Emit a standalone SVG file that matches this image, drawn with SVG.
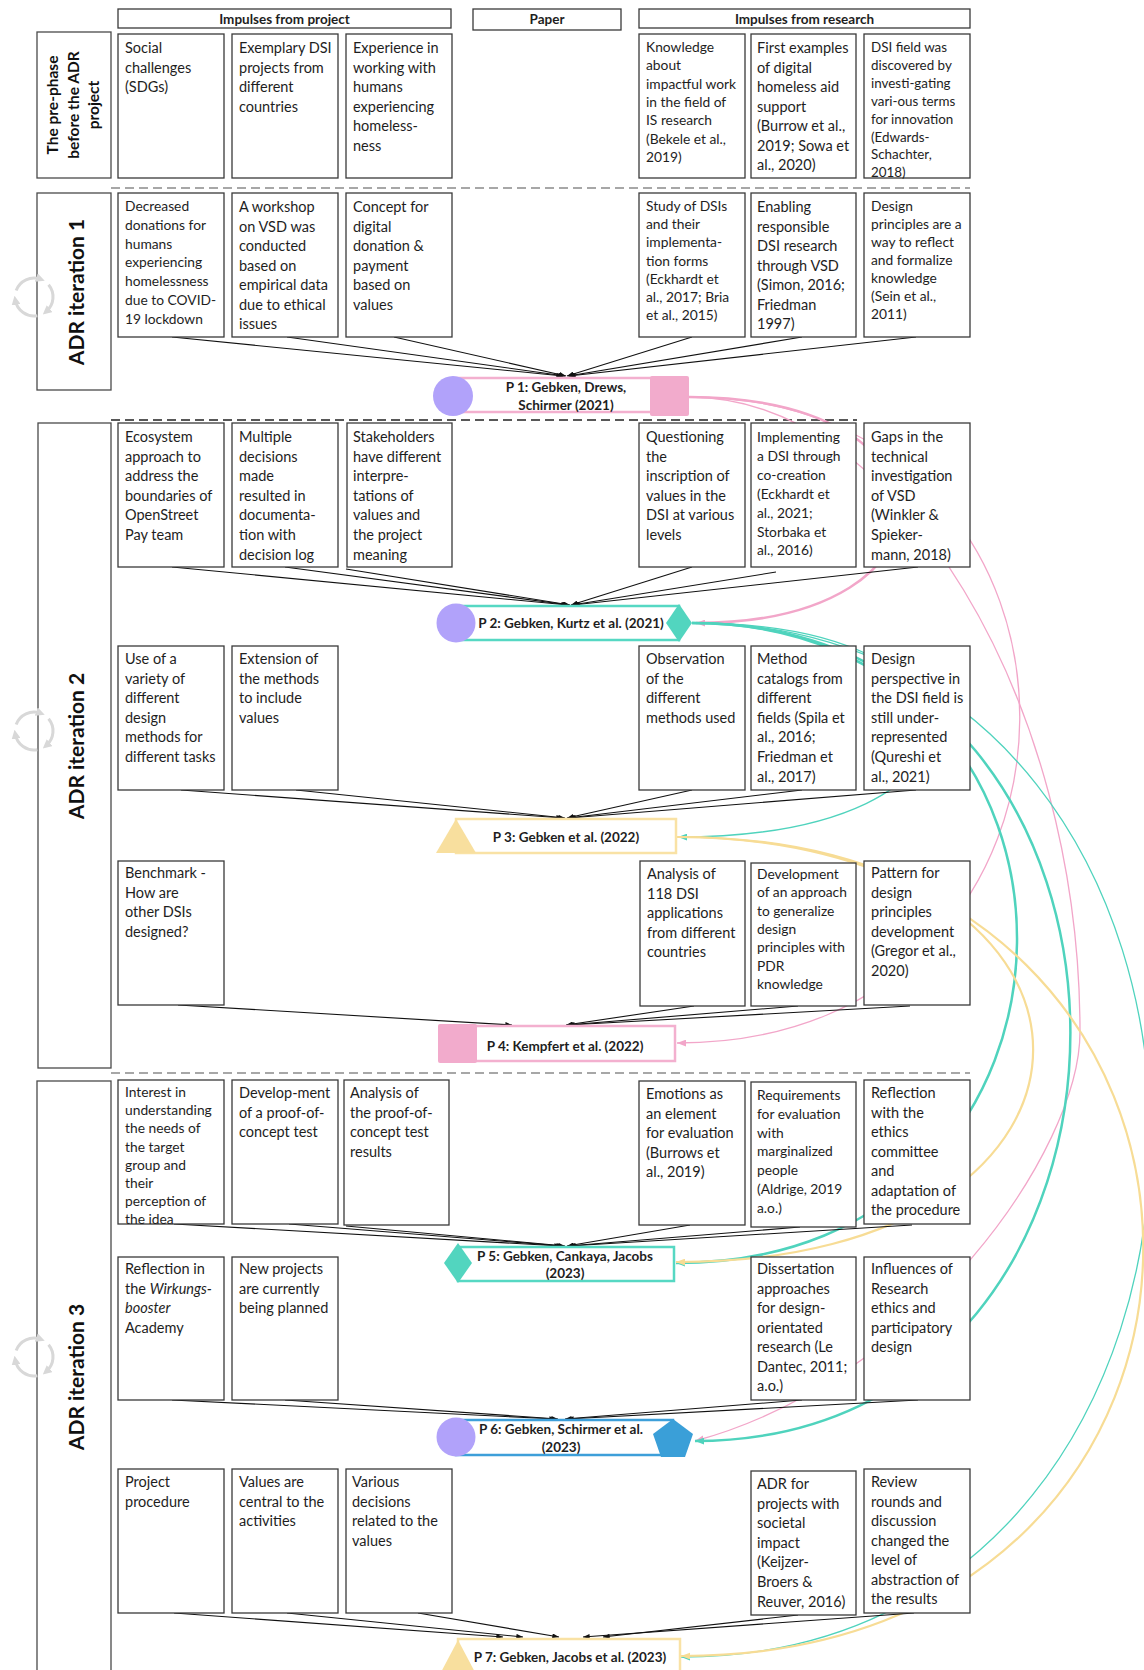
<svg xmlns="http://www.w3.org/2000/svg" width="1144" height="1670" viewBox="0 0 1144 1670">
<style>
.bx{fill:#fff;stroke:#3a3a3a;stroke-width:1.3}
.lb{fill:#fff;stroke:#4a4a4a;stroke-width:1.3}
.t{font-family:Lato,"Open Sans",sans-serif;font-size:14.5px;fill:#1e1e1e}
.s{font-size:13.8px}
.xs{font-size:13.4px}
.hd{font-family:Lato,"Open Sans",sans-serif;font-weight:bold;font-size:13.5px;text-anchor:middle;fill:#1e1e1e}
.pt{font-family:Lato,"Open Sans",sans-serif;font-weight:bold;font-size:13.5px;text-anchor:middle;fill:#1e1e1e}
.it{font-family:Lato,"Open Sans",sans-serif;font-weight:bold;font-size:21px;text-anchor:middle;fill:#111}
.pp{font-family:Lato,"Open Sans",sans-serif;font-weight:bold;font-size:15.5px;text-anchor:middle;fill:#111}
.lk{stroke:#111;stroke-width:1.1;fill:none;marker-end:url(#ak)}
.cp{stroke:#f2a6c9;fill:none;marker-end:url(#ap)}
.ct{stroke:#4fd3bd;fill:none;marker-end:url(#at)}
.cy{stroke:#f7dc95;fill:none;marker-end:url(#ay)}
.dg{stroke:#8a8a8a;stroke-width:1.6;stroke-dasharray:9 5;fill:none}
.db{stroke:#222;stroke-width:1.6;stroke-dasharray:9 5;fill:none}
.cyc{stroke:#d8d8d8;stroke-width:3;fill:none;marker-end:url(#ac)}
</style>
<defs>
<marker id="ak" viewBox="0 0 8 6" refX="8" refY="3" markerWidth="7" markerHeight="5" markerUnits="userSpaceOnUse" orient="auto"><path d="M0,0 L8,3 L0,6 z" fill="#111"/></marker>
<marker id="ap" viewBox="0 0 8 6" refX="8" refY="3" markerWidth="9" markerHeight="7" markerUnits="userSpaceOnUse" orient="auto"><path d="M0,0 L8,3 L0,6 z" fill="#f2a6c9"/></marker>
<marker id="at" viewBox="0 0 8 6" refX="8" refY="3" markerWidth="9" markerHeight="7" markerUnits="userSpaceOnUse" orient="auto"><path d="M0,0 L8,3 L0,6 z" fill="#4fd3bd"/></marker>
<marker id="ay" viewBox="0 0 8 6" refX="8" refY="3" markerWidth="9" markerHeight="7" markerUnits="userSpaceOnUse" orient="auto"><path d="M0,0 L8,3 L0,6 z" fill="#f7dc95"/></marker>
<marker id="ac" viewBox="0 0 8 8" refX="4" refY="4" markerWidth="9" markerHeight="9" markerUnits="userSpaceOnUse" orient="auto"><path d="M0,0 L8,4 L0,8 z" fill="#d8d8d8"/></marker>
<g id="cycle"><path class="cyc" d="M-17.85,-6.5 A19,19 0 0 1 6.5,-17.85"/><path class="cyc" d="M14.55,-12.21 A19,19 0 0 1 12.21,14.55"/><path class="cyc" d="M3.3,18.71 A19,19 0 0 1 -18.71,3.3"/></g>
</defs>
<rect width="1144" height="1670" fill="#fff"/>

<!-- headers -->
<g id="h-project"><rect class="bx" x="118" y="9" width="333" height="19"/><text class="hd" x="284.5" y="23.5">Impulses from project</text></g>
<g id="h-paper"><rect class="bx" x="473" y="9" width="148" height="21"/><text class="hd" x="547" y="24">Paper</text></g>
<g id="h-research"><rect class="bx" x="639" y="9" width="331" height="19"/><text class="hd" x="804.5" y="23.5">Impulses from research</text></g>

<!-- phase labels -->
<g id="l-pre"><rect class="lb" x="37" y="32" width="74" height="146"/>
<text class="pp" transform="translate(58,105) rotate(-90)">The pre-phase</text>
<text class="pp" transform="translate(79,105) rotate(-90)">before the ADR</text>
<text class="pp" transform="translate(99,105) rotate(-90)">project</text></g>
<g id="l-it1"><rect class="lb" x="37" y="193" width="74" height="197"/><text class="it" transform="translate(84,292) rotate(-90)">ADR iteration 1</text><use href="#cycle" x="34" y="297"/></g>
<g id="l-it2"><rect class="lb" x="38" y="423" width="73" height="645" stroke="#666"/><text class="it" transform="translate(84,746) rotate(-90)">ADR iteration 2</text><use href="#cycle" x="34" y="731"/></g>
<g id="l-it3"><rect class="lb" x="37" y="1081" width="74" height="610"/><text class="it" transform="translate(84,1377) rotate(-90)">ADR iteration 3</text><use href="#cycle" x="34" y="1357"/></g>

<!-- separators -->
<g id="separators">
<line class="dg" x1="111" y1="188" x2="970" y2="188"/>
<line class="db" x1="111" y1="420" x2="857" y2="420"/>
<line class="dg" x1="111" y1="1073" x2="970" y2="1073"/>
</g>

<g id="connectors">
<!-- paper to paper curves -->
<path class="cp" stroke-width="2.5" d="M689,397 C969,397 969,623 696,623"/>
<path class="cp" stroke-width="1.3" d="M689,397 C1132,397 1132,1043 677,1043"/>
<path class="cp" stroke-width="1.3" d="M689,397 C900,397 1080,700 1080,1032 C1080,1150 920,1380 695,1441"/>
<path class="ct" stroke-width="1.3" d="M692,623 C1012,623 1012,837 678,837"/>
<path class="ct" stroke-width="2.5" d="M692,623 C1128,623 1128,1263 676,1263"/>
<path class="ct" stroke-width="2.5" d="M692,623 C1196,623 1196,1441 695,1441"/>
<path class="ct" stroke-width="1.3" d="M692,623 C1305,623 1305,1657 681,1657"/>
<path class="cy" stroke-width="2.2" d="M677,837 C1152,837 1152,1263 676,1262"/>
<path class="cy" stroke-width="2.2" d="M677,837 C1298,837 1298,1657 681,1656"/>
<!-- impulses to papers -->
<line class="lk" x1="172" y1="337" x2="563" y2="376"/>
<line class="lk" x1="287" y1="337" x2="565" y2="376"/>
<line class="lk" x1="394" y1="337" x2="566" y2="376"/>
<line class="lk" x1="692" y1="337" x2="567" y2="376"/>
<line class="lk" x1="802" y1="337" x2="568" y2="376"/>
<line class="lk" x1="916" y1="337" x2="569" y2="376"/>
<line class="lk" x1="172" y1="567" x2="568" y2="605"/>
<line class="lk" x1="285" y1="567" x2="569" y2="605"/>
<line class="lk" x1="346" y1="569" x2="570" y2="605"/>
<line class="lk" x1="692" y1="567" x2="571" y2="605"/>
<line class="lk" x1="776" y1="572" x2="572" y2="605"/>
<line class="lk" x1="918" y1="567" x2="573" y2="605"/>
<line class="lk" x1="181" y1="790" x2="563" y2="818"/>
<line class="lk" x1="296" y1="790" x2="565" y2="818"/>
<line class="lk" x1="692" y1="790" x2="567" y2="818"/>
<line class="lk" x1="802" y1="790" x2="568" y2="818"/>
<line class="lk" x1="916" y1="790" x2="569" y2="818"/>
<line class="lk" x1="178" y1="1005" x2="512" y2="1025"/>
<line class="lk" x1="694" y1="1006" x2="566" y2="1025"/>
<line class="lk" x1="798" y1="1006" x2="567" y2="1025"/>
<line class="lk" x1="910" y1="1006" x2="568" y2="1025"/>
<line class="lk" x1="174" y1="1224" x2="561" y2="1246"/>
<line class="lk" x1="289" y1="1224" x2="563" y2="1246"/>
<line class="lk" x1="346" y1="1226" x2="565" y2="1246"/>
<line class="lk" x1="690" y1="1225" x2="567" y2="1246"/>
<line class="lk" x1="800" y1="1227" x2="568" y2="1246"/>
<line class="lk" x1="912" y1="1225" x2="569" y2="1246"/>
<line class="lk" x1="172" y1="1400" x2="556" y2="1419"/>
<line class="lk" x1="285" y1="1400" x2="558" y2="1419"/>
<line class="lk" x1="802" y1="1400" x2="565" y2="1419"/>
<line class="lk" x1="918" y1="1400" x2="567" y2="1419"/>
<line class="lk" x1="174" y1="1613" x2="503" y2="1637"/>
<line class="lk" x1="287" y1="1613" x2="523" y2="1637"/>
<line class="lk" x1="418" y1="1613" x2="559" y2="1637"/>
<line class="lk" x1="914" y1="1613" x2="583" y2="1637"/>
<line class="lk" x1="798" y1="1615" x2="603" y2="1637"/>
</g>

<!-- pre-phase -->
<g id="n-pre-1"><rect class="bx" x="118" y="34" width="106" height="144"/><text class="t" x="125" y="53"><tspan x="125">Social</tspan><tspan x="125" dy="19.6">challenges</tspan><tspan x="125" dy="19.6">(SDGs)</tspan></text></g>
<g id="n-pre-2"><rect class="bx" x="232" y="34" width="106" height="144"/><text class="t" x="239" y="53"><tspan x="239">Exemplary DSI</tspan><tspan x="239" dy="19.6">projects from</tspan><tspan x="239" dy="19.6">different</tspan><tspan x="239" dy="19.6">countries</tspan></text></g>
<g id="n-pre-3"><rect class="bx" x="346" y="34" width="106" height="144"/><text class="t" x="353" y="53"><tspan x="353">Experience in</tspan><tspan x="353" dy="19.6">working with</tspan><tspan x="353" dy="19.6">humans</tspan><tspan x="353" dy="19.6">experiencing</tspan><tspan x="353" dy="19.6">homeless-</tspan><tspan x="353" dy="19.6">ness</tspan></text></g>
<g id="n-pre-4"><rect class="bx" x="639" y="34" width="106" height="144"/><text class="t s" x="646" y="52"><tspan x="646">Knowledge</tspan><tspan x="646" dy="18.3">about</tspan><tspan x="646" dy="18.3">impactful work</tspan><tspan x="646" dy="18.3">in the field of</tspan><tspan x="646" dy="18.3">IS research</tspan><tspan x="646" dy="18.3">(Bekele et al.,</tspan><tspan x="646" dy="18.3">2019)</tspan></text></g>
<g id="n-pre-5"><rect class="bx" x="751" y="34" width="105" height="144"/><text class="t" x="757" y="53"><tspan x="757">First examples</tspan><tspan x="757" dy="19.5">of digital</tspan><tspan x="757" dy="19.5">homeless aid</tspan><tspan x="757" dy="19.5">support</tspan><tspan x="757" dy="19.5">(Burrow et al.,</tspan><tspan x="757" dy="19.5">2019; Sowa et</tspan><tspan x="757" dy="19.5">al., 2020)</tspan></text></g>
<g id="n-pre-6"><rect class="bx" x="864" y="34" width="106" height="144"/><text class="t xs" x="871" y="52"><tspan x="871">DSI field was</tspan><tspan x="871" dy="17.9">discovered by</tspan><tspan x="871" dy="17.9">investi-gating</tspan><tspan x="871" dy="17.9">vari-ous terms</tspan><tspan x="871" dy="17.9">for innovation</tspan><tspan x="871" dy="17.9">(Edwards-</tspan><tspan x="871" dy="17.9">Schachter,</tspan><tspan x="871" dy="17.9">2018)</tspan></text></g>

<!-- iteration 1 -->
<g id="n-i1-1"><rect class="bx" x="118" y="193" width="106" height="144"/><text class="t s" x="125" y="211"><tspan x="125">Decreased</tspan><tspan x="125" dy="18.8">donations for</tspan><tspan x="125" dy="18.8">humans</tspan><tspan x="125" dy="18.8">experiencing</tspan><tspan x="125" dy="18.8">homelessness</tspan><tspan x="125" dy="18.8">due to COVID-</tspan><tspan x="125" dy="18.8">19 lockdown</tspan></text></g>
<g id="n-i1-2"><rect class="bx" x="232" y="193" width="106" height="144"/><text class="t" x="239" y="212"><tspan x="239">A workshop</tspan><tspan x="239" dy="19.5">on VSD was</tspan><tspan x="239" dy="19.5">conducted</tspan><tspan x="239" dy="19.5">based on</tspan><tspan x="239" dy="19.5">empirical data</tspan><tspan x="239" dy="19.5">due to ethical</tspan><tspan x="239" dy="19.5">issues</tspan></text></g>
<g id="n-i1-3"><rect class="bx" x="346" y="193" width="106" height="144"/><text class="t" x="353" y="212"><tspan x="353">Concept for</tspan><tspan x="353" dy="19.5">digital</tspan><tspan x="353" dy="19.5">donation &amp;</tspan><tspan x="353" dy="19.5">payment</tspan><tspan x="353" dy="19.5">based on</tspan><tspan x="353" dy="19.5">values</tspan></text></g>
<g id="n-i1-4"><rect class="bx" x="639" y="193" width="106" height="144"/><text class="t s" x="646" y="211"><tspan x="646">Study of DSIs</tspan><tspan x="646" dy="18.2">and their</tspan><tspan x="646" dy="18.2">implementa-</tspan><tspan x="646" dy="18.2">tion forms</tspan><tspan x="646" dy="18.2">(Eckhardt et</tspan><tspan x="646" dy="18.2">al., 2017; Bria</tspan><tspan x="646" dy="18.2">et al., 2015)</tspan></text></g>
<g id="n-i1-5"><rect class="bx" x="751" y="193" width="105" height="144"/><text class="t" x="757" y="212"><tspan x="757">Enabling</tspan><tspan x="757" dy="19.5">responsible</tspan><tspan x="757" dy="19.5">DSI research</tspan><tspan x="757" dy="19.5">through VSD</tspan><tspan x="757" dy="19.5">(Simon, 2016;</tspan><tspan x="757" dy="19.5">Friedman</tspan><tspan x="757" dy="19.5">1997)</tspan></text></g>
<g id="n-i1-6"><rect class="bx" x="864" y="193" width="106" height="144"/><text class="t s" x="871" y="211"><tspan x="871">Design</tspan><tspan x="871" dy="18">principles are a</tspan><tspan x="871" dy="18">way to reflect</tspan><tspan x="871" dy="18">and formalize</tspan><tspan x="871" dy="18">knowledge</tspan><tspan x="871" dy="18">(Sein et al.,</tspan><tspan x="871" dy="18">2011)</tspan></text></g>

<!-- iteration 2 row A -->
<g id="n-i2a-1"><rect class="bx" x="118" y="423" width="106" height="144"/><text class="t" x="125" y="442"><tspan x="125">Ecosystem</tspan><tspan x="125" dy="19.6">approach to</tspan><tspan x="125" dy="19.6">address the</tspan><tspan x="125" dy="19.6">boundaries of</tspan><tspan x="125" dy="19.6">OpenStreet</tspan><tspan x="125" dy="19.6">Pay team</tspan></text></g>
<g id="n-i2a-2"><rect class="bx" x="232" y="423" width="106" height="144"/><text class="t" x="239" y="442"><tspan x="239">Multiple</tspan><tspan x="239" dy="19.6">decisions</tspan><tspan x="239" dy="19.6">made</tspan><tspan x="239" dy="19.6">resulted in</tspan><tspan x="239" dy="19.6">documenta-</tspan><tspan x="239" dy="19.6">tion with</tspan><tspan x="239" dy="19.6">decision log</tspan></text></g>
<g id="n-i2a-3"><rect class="bx" x="347" y="423" width="105" height="144"/><text class="t" x="353" y="442"><tspan x="353">Stakeholders</tspan><tspan x="353" dy="19.6">have different</tspan><tspan x="353" dy="19.6">interpre-</tspan><tspan x="353" dy="19.6">tations of</tspan><tspan x="353" dy="19.6">values and</tspan><tspan x="353" dy="19.6">the project</tspan><tspan x="353" dy="19.6">meaning</tspan></text></g>
<g id="n-i2a-4"><rect class="bx" x="639" y="423" width="106" height="144"/><text class="t" x="646" y="442"><tspan x="646">Questioning</tspan><tspan x="646" dy="19.6">the</tspan><tspan x="646" dy="19.6">inscription of</tspan><tspan x="646" dy="19.6">values in the</tspan><tspan x="646" dy="19.6">DSI at various</tspan><tspan x="646" dy="19.6">levels</tspan></text></g>
<g id="n-i2a-5"><rect class="bx" x="751" y="423" width="105" height="144"/><text class="t s" x="757" y="442"><tspan x="757">Implementing</tspan><tspan x="757" dy="18.9">a DSI through</tspan><tspan x="757" dy="18.9">co-creation</tspan><tspan x="757" dy="18.9">(Eckhardt et</tspan><tspan x="757" dy="18.9">al., 2021;</tspan><tspan x="757" dy="18.9">Storbaka et</tspan><tspan x="757" dy="18.9">al., 2016)</tspan></text></g>
<g id="n-i2a-6"><rect class="bx" x="864" y="423" width="106" height="144"/><text class="t" x="871" y="442"><tspan x="871">Gaps in the</tspan><tspan x="871" dy="19.6">technical</tspan><tspan x="871" dy="19.6">investigation</tspan><tspan x="871" dy="19.6">of VSD</tspan><tspan x="871" dy="19.6">(Winkler &amp;</tspan><tspan x="871" dy="19.6">Spieker-</tspan><tspan x="871" dy="19.6">mann, 2018)</tspan></text></g>

<!-- iteration 2 row B -->
<g id="n-i2b-1"><rect class="bx" x="118" y="646" width="106" height="144"/><text class="t" x="125" y="664"><tspan x="125">Use of a</tspan><tspan x="125" dy="19.6">variety of</tspan><tspan x="125" dy="19.6">different</tspan><tspan x="125" dy="19.6">design</tspan><tspan x="125" dy="19.6">methods for</tspan><tspan x="125" dy="19.6">different tasks</tspan></text></g>
<g id="n-i2b-2"><rect class="bx" x="232" y="646" width="106" height="144"/><text class="t" x="239" y="664"><tspan x="239">Extension of</tspan><tspan x="239" dy="19.6">the methods</tspan><tspan x="239" dy="19.6">to include</tspan><tspan x="239" dy="19.6">values</tspan></text></g>
<g id="n-i2b-4"><rect class="bx" x="639" y="646" width="106" height="144"/><text class="t" x="646" y="664"><tspan x="646">Observation</tspan><tspan x="646" dy="19.6">of the</tspan><tspan x="646" dy="19.6">different</tspan><tspan x="646" dy="19.6">methods used</tspan></text></g>
<g id="n-i2b-5"><rect class="bx" x="751" y="646" width="105" height="144"/><text class="t" x="757" y="664"><tspan x="757">Method</tspan><tspan x="757" dy="19.6">catalogs from</tspan><tspan x="757" dy="19.6">different</tspan><tspan x="757" dy="19.6">fields (Spila et</tspan><tspan x="757" dy="19.6">al., 2016;</tspan><tspan x="757" dy="19.6">Friedman et</tspan><tspan x="757" dy="19.6">al., 2017)</tspan></text></g>
<g id="n-i2b-6"><rect class="bx" x="864" y="646" width="106" height="144"/><text class="t" x="871" y="664"><tspan x="871">Design</tspan><tspan x="871" dy="19.6">perspective in</tspan><tspan x="871" dy="19.6">the DSI field is</tspan><tspan x="871" dy="19.6">still under-</tspan><tspan x="871" dy="19.6">represented</tspan><tspan x="871" dy="19.6">(Qureshi et</tspan><tspan x="871" dy="19.6">al., 2021)</tspan></text></g>

<!-- iteration 2 row C -->
<g id="n-i2c-1"><rect class="bx" x="118" y="861" width="106" height="144"/><text class="t" x="125" y="878"><tspan x="125">Benchmark -</tspan><tspan x="125" dy="19.6">How are</tspan><tspan x="125" dy="19.6">other DSIs</tspan><tspan x="125" dy="19.6">designed?</tspan></text></g>
<g id="n-i2c-4"><rect class="bx" x="640" y="861" width="105" height="145"/><text class="t" x="647" y="879"><tspan x="647">Analysis of</tspan><tspan x="647" dy="19.6">118 DSI</tspan><tspan x="647" dy="19.6">applications</tspan><tspan x="647" dy="19.6">from different</tspan><tspan x="647" dy="19.6">countries</tspan></text></g>
<g id="n-i2c-5"><rect class="bx" x="751" y="863" width="105" height="143"/><text class="t s" x="757" y="879"><tspan x="757">Development</tspan><tspan x="757" dy="18.3">of an approach</tspan><tspan x="757" dy="18.3">to generalize</tspan><tspan x="757" dy="18.3">design</tspan><tspan x="757" dy="18.3">principles with</tspan><tspan x="757" dy="18.3">PDR</tspan><tspan x="757" dy="18.3">knowledge</tspan></text></g>
<g id="n-i2c-6"><rect class="bx" x="864" y="861" width="106" height="144"/><text class="t" x="871" y="878"><tspan x="871">Pattern for</tspan><tspan x="871" dy="19.6">design</tspan><tspan x="871" dy="19.6">principles</tspan><tspan x="871" dy="19.6">development</tspan><tspan x="871" dy="19.6">(Gregor et al.,</tspan><tspan x="871" dy="19.6">2020)</tspan></text></g>

<!-- iteration 3 row D -->
<g id="n-i3d-1"><rect class="bx" x="118" y="1080" width="106" height="144"/><text class="t s" x="125" y="1097"><tspan x="125">Interest in</tspan><tspan x="125" dy="18.2">understanding</tspan><tspan x="125" dy="18.2">the needs of</tspan><tspan x="125" dy="18.2">the target</tspan><tspan x="125" dy="18.2">group and</tspan><tspan x="125" dy="18.2">their</tspan><tspan x="125" dy="18.2">perception of</tspan><tspan x="125" dy="18.2">the idea</tspan></text></g>
<g id="n-i3d-2"><rect class="bx" x="232" y="1080" width="106" height="144"/><text class="t" x="239" y="1098"><tspan x="239">Develop-ment</tspan><tspan x="239" dy="19.5">of a proof-of-</tspan><tspan x="239" dy="19.5">concept test</tspan></text></g>
<g id="n-i3d-3"><rect class="bx" x="344" y="1080" width="105" height="145"/><text class="t" x="350" y="1098"><tspan x="350">Analysis of</tspan><tspan x="350" dy="19.6">the proof-of-</tspan><tspan x="350" dy="19.6">concept test</tspan><tspan x="350" dy="19.6">results</tspan></text></g>
<g id="n-i3d-4"><rect class="bx" x="639" y="1081" width="106" height="144"/><text class="t" x="646" y="1099"><tspan x="646">Emotions as</tspan><tspan x="646" dy="19.5">an element</tspan><tspan x="646" dy="19.5">for evaluation</tspan><tspan x="646" dy="19.5">(Burrows et</tspan><tspan x="646" dy="19.5">al., 2019)</tspan></text></g>
<g id="n-i3d-5"><rect class="bx" x="751" y="1082" width="105" height="145"/><text class="t s" x="757" y="1100"><tspan x="757">Requirements</tspan><tspan x="757" dy="18.8">for evaluation</tspan><tspan x="757" dy="18.8">with</tspan><tspan x="757" dy="18.8">marginalized</tspan><tspan x="757" dy="18.8">people</tspan><tspan x="757" dy="18.8">(Aldrige, 2019</tspan><tspan x="757" dy="18.8">a.o.)</tspan></text></g>
<g id="n-i3d-6"><rect class="bx" x="864" y="1080" width="106" height="144"/><text class="t" x="871" y="1098"><tspan x="871">Reflection</tspan><tspan x="871" dy="19.5">with the</tspan><tspan x="871" dy="19.5">ethics</tspan><tspan x="871" dy="19.5">committee</tspan><tspan x="871" dy="19.5">and</tspan><tspan x="871" dy="19.5">adaptation of</tspan><tspan x="871" dy="19.5">the procedure</tspan></text></g>

<!-- iteration 3 row E -->
<g id="n-i3e-1"><rect class="bx" x="118" y="1257" width="106" height="143"/><text class="t" x="125" y="1274"><tspan x="125">Reflection in</tspan><tspan x="125" dy="19.5">the </tspan><tspan font-style="italic">Wirkungs-</tspan><tspan x="125" dy="19.5" font-style="italic">booster</tspan><tspan x="125" dy="19.5">Academy</tspan></text></g>
<g id="n-i3e-2"><rect class="bx" x="232" y="1257" width="106" height="143"/><text class="t" x="239" y="1274"><tspan x="239">New projects</tspan><tspan x="239" dy="19.5">are currently</tspan><tspan x="239" dy="19.5">being planned</tspan></text></g>
<g id="n-i3e-5"><rect class="bx" x="751" y="1257" width="105" height="143"/><text class="t" x="757" y="1274"><tspan x="757">Dissertation</tspan><tspan x="757" dy="19.5">approaches</tspan><tspan x="757" dy="19.5">for design-</tspan><tspan x="757" dy="19.5">orientated</tspan><tspan x="757" dy="19.5">research (Le</tspan><tspan x="757" dy="19.5">Dantec, 2011;</tspan><tspan x="757" dy="19.5">a.o.)</tspan></text></g>
<g id="n-i3e-6"><rect class="bx" x="864" y="1257" width="106" height="143"/><text class="t" x="871" y="1274"><tspan x="871">Influences of</tspan><tspan x="871" dy="19.5">Research</tspan><tspan x="871" dy="19.5">ethics and</tspan><tspan x="871" dy="19.5">participatory</tspan><tspan x="871" dy="19.5">design</tspan></text></g>

<!-- iteration 3 row F -->
<g id="n-i3f-1"><rect class="bx" x="118" y="1469" width="106" height="144"/><text class="t" x="125" y="1487"><tspan x="125">Project</tspan><tspan x="125" dy="19.5">procedure</tspan></text></g>
<g id="n-i3f-2"><rect class="bx" x="232" y="1469" width="106" height="144"/><text class="t" x="239" y="1487"><tspan x="239">Values are</tspan><tspan x="239" dy="19.5">central to the</tspan><tspan x="239" dy="19.5">activities</tspan></text></g>
<g id="n-i3f-3"><rect class="bx" x="346" y="1469" width="106" height="144"/><text class="t" x="352" y="1487"><tspan x="352">Various</tspan><tspan x="352" dy="19.5">decisions</tspan><tspan x="352" dy="19.5">related to the</tspan><tspan x="352" dy="19.5">values</tspan></text></g>
<g id="n-i3f-5"><rect class="bx" x="751" y="1471" width="105" height="144"/><text class="t" x="757" y="1489"><tspan x="757">ADR for</tspan><tspan x="757" dy="19.6">projects with</tspan><tspan x="757" dy="19.6">societal</tspan><tspan x="757" dy="19.6">impact</tspan><tspan x="757" dy="19.6">(Keijzer-</tspan><tspan x="757" dy="19.6">Broers &amp;</tspan><tspan x="757" dy="19.6">Reuver, 2016)</tspan></text></g>
<g id="n-i3f-6"><rect class="bx" x="864" y="1469" width="106" height="144"/><text class="t" x="871" y="1487"><tspan x="871">Review</tspan><tspan x="871" dy="19.5">rounds and</tspan><tspan x="871" dy="19.5">discussion</tspan><tspan x="871" dy="19.5">changed the</tspan><tspan x="871" dy="19.5">level of</tspan><tspan x="871" dy="19.5">abstraction of</tspan><tspan x="871" dy="19.5">the results</tspan></text></g>

<!-- papers -->
<g id="p1"><rect x="453" y="378" width="216" height="34" fill="#fff" stroke="#f3b0cf" stroke-width="2.5"/><circle cx="453" cy="396" r="20" fill="#b1a2fa"/><rect x="650" y="376" width="39" height="40" rx="2" fill="#f2abcc"/><text class="pt" x="566" y="392">P 1: Gebken, Drews,</text><text class="pt" x="566" y="410">Schirmer (2021)</text></g>
<g id="p2"><rect x="456" y="606" width="223" height="34" fill="#fff" stroke="#56d8c3" stroke-width="2.5"/><circle cx="456" cy="623" r="19.5" fill="#b1a2fa"/><polygon points="679,604 692,623 679,642 666,623" fill="#52d5bf"/><text class="pt" x="571" y="628">P 2: Gebken, Kurtz et al. (2021)</text></g>
<g id="p3"><rect x="456" y="819" width="220" height="34" fill="#fff" stroke="#f9e2a5" stroke-width="2.5"/><polygon points="436,853 456,819 476,853" fill="#f8df9e"/><text class="pt" x="566" y="842">P 3: Gebken et al. (2022)</text></g>
<g id="p4"><rect x="458" y="1026" width="217" height="35" fill="#fff" stroke="#f3b0cf" stroke-width="2.5"/><rect x="438" y="1024" width="39" height="39" rx="2" fill="#f2abcc"/><text class="pt" x="565" y="1051">P 4: Kempfert et al. (2022)</text></g>
<g id="p5"><rect x="458" y="1247" width="216" height="34" fill="#fff" stroke="#56d8c3" stroke-width="2.5"/><polygon points="458,1243 472,1263 458,1283 444,1263" fill="#52d5bf"/><text class="pt" x="565" y="1261">P 5: Gebken, Cankaya, Jacobs</text><text class="pt" x="565" y="1278">(2023)</text></g>
<g id="p6"><rect x="456" y="1420" width="217" height="35" fill="#fff" stroke="#3d9fd9" stroke-width="2.5"/><circle cx="456" cy="1437" r="19.5" fill="#b1a2fa"/><polygon points="673,1419 693,1434 685,1457 661,1457 653,1434" fill="#3a9fd8"/><text class="pt" x="561" y="1434">P 6: Gebken, Schirmer et al.</text><text class="pt" x="561" y="1452">(2023)</text></g>
<g id="p7"><rect x="458" y="1639" width="222" height="40" fill="#fff" stroke="#f9e2a5" stroke-width="2.5"/><polygon points="439,1676 458,1640 477,1676" fill="#f8df9e"/><text class="pt" x="570" y="1662">P 7: Gebken, Jacobs et al. (2023)</text></g>
</svg>
